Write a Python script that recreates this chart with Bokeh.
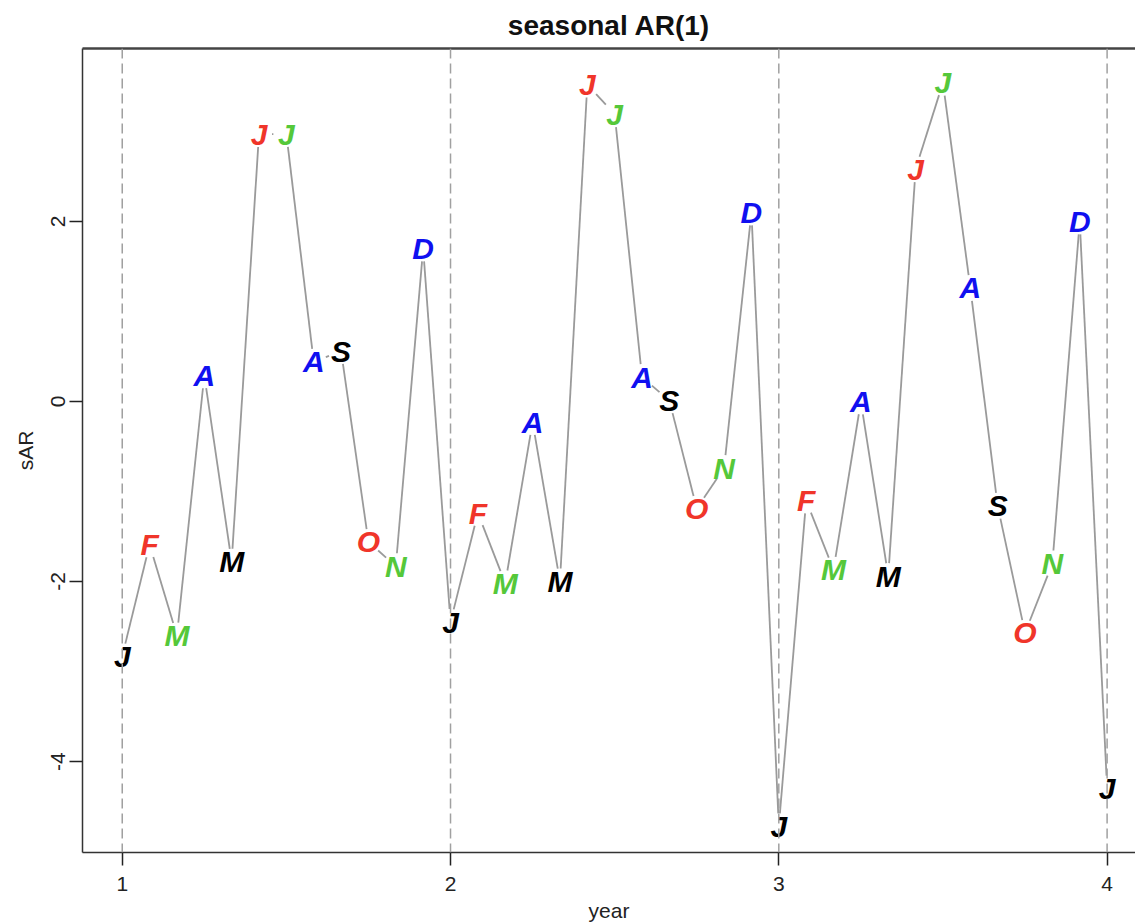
import numpy as np
from bokeh.plotting import figure
from bokeh.models import LinearAxis, FixedTicker, Span, ColumnDataSource, Range1d
from bokeh.core.properties import value
from bokeh.embed import file_html
from bokeh.resources import INLINE

# ---- data -------------------------------------------------------------
start_year = 1
months_per_year = 12
sAR = [
    -2.83, -1.59, -2.60, 0.29, -1.78, 2.97, 2.97, 0.44, 0.56, -1.56, -1.83, 1.70,
    -2.45, -1.24, -2.02, -0.23, -2.00, 3.52, 3.19, 0.27, 0.01, -1.19, -0.74, 2.10,
    -4.72, -1.10, -1.87, 0.00, -1.94, 2.58, 3.54, 1.26, -1.16, -2.57, -1.80, 2.00,
    -4.30,
]
month_letters = ["J", "F", "M", "A", "M", "J", "J", "A", "S", "O", "N", "D"]
letter_colors = ["#000000", "#F0352A", "#55C83A", "#1010F0"]
year_lines = [1, 2, 3, 4]
x_ticks = [1, 2, 3, 4]
y_ticks = [-4, -2, 0, 2]

t = [start_year + i / months_per_year for i in range(len(sAR))]
letters = [month_letters[i % 12] for i in range(len(sAR))]
colors = [letter_colors[i % 4] for i in range(len(sAR))]

# ---- figure -----------------------------------------------------------
FW, FH = 1053, 804
x0, x1 = 0.879, 4.0865
y0, y1 = -5.01, 3.92
FONT = value("Liberation Sans")

p = figure(frame_width=FW, frame_height=FH,
           x_range=Range1d(x0, x1), y_range=Range1d(y0, y1),
           output_backend="svg", toolbar_location=None,
           min_border_left=82, min_border_right=0,
           min_border_top=47, min_border_bottom=73,
           title="seasonal AR(1)")
p.title.align = "center"
p.title.text_font = "Liberation Sans"
p.title.text_font_size = "28px"
p.title.text_font_style = "bold"
p.title.text_color = "#111111"
p.title.standoff = 15
p.outline_line_color = None
p.xgrid.visible = False
p.ygrid.visible = False
p.background_fill_color = "white"

# axes
for ax, ticks, lab in ((p.below[0], x_ticks, "year"), (p.left[0], y_ticks, "sAR")):
    ax.ticker = FixedTicker(ticks=ticks)
    ax.major_label_overrides = {v: str(v) for v in ticks}
    ax.axis_label = lab
    ax.axis_label_text_font = "Liberation Sans"
    ax.axis_label_text_font_style = "normal"
    ax.axis_label_text_font_size = "21px"
    ax.axis_label_text_color = "#222222"
    ax.major_label_text_font = "Liberation Sans"
    ax.major_label_text_font_size = "21px"
    ax.major_label_text_color = "#222222"
    ax.major_tick_out = 13
    ax.major_tick_in = 0
    ax.minor_tick_out = 0
    ax.minor_tick_in = 0
    ax.major_tick_line_width = 1.5
    ax.major_tick_line_color = "#222222"
    ax.axis_line_width = 1.5
    ax.axis_line_color = "#333333"
p.left[0].major_label_orientation = "vertical"
p.left[0].major_label_standoff = 4
p.left[0].axis_label_standoff = 12
p.below[0].major_label_standoff = 11
p.below[0].axis_label_standoff = 5

top = LinearAxis(ticker=FixedTicker(ticks=[]), major_label_text_font_size="0px",
                 major_tick_out=0, major_tick_in=0, minor_tick_out=0, minor_tick_in=0,
                 axis_line_width=2.5, axis_line_color="#444444")
p.add_layout(top, "above")

# vertical dashed year lines
for yl in year_lines:
    p.add_layout(Span(location=yl, dimension="height", line_color="#a0a0a0",
                      line_width=1.5, line_dash="10 5"))

# line with gaps around the letters (R type="c")
sx = FW / (x1 - x0)
sy = FH / (y1 - y0)
gap = 13.0
xs0, ys0, xs1, ys1 = [], [], [], []
for i in range(len(sAR) - 1):
    dx = (t[i + 1] - t[i]) * sx
    dy = (sAR[i + 1] - sAR[i]) * sy
    L = float(np.hypot(dx, dy))
    if L > 2 * gap:
        f = gap / L
        xs0.append(t[i] + f * (t[i + 1] - t[i]))
        ys0.append(sAR[i] + f * (sAR[i + 1] - sAR[i]))
        xs1.append(t[i + 1] - f * (t[i + 1] - t[i]))
        ys1.append(sAR[i + 1] - f * (sAR[i + 1] - sAR[i]))
p.segment(x0=xs0, y0=ys0, x1=xs1, y1=ys1, line_color="#9a9a9a", line_width=1.8)

src = ColumnDataSource(dict(t=t, v=sAR, m=letters, c=colors))
p.text(x="t", y="v", text="m", text_color="c", source=src,
       text_font=FONT, text_font_style="bold italic", text_font_size="30px",
       text_align="center", text_baseline="middle")

open("out.html", "w").write(file_html(p, INLINE))
